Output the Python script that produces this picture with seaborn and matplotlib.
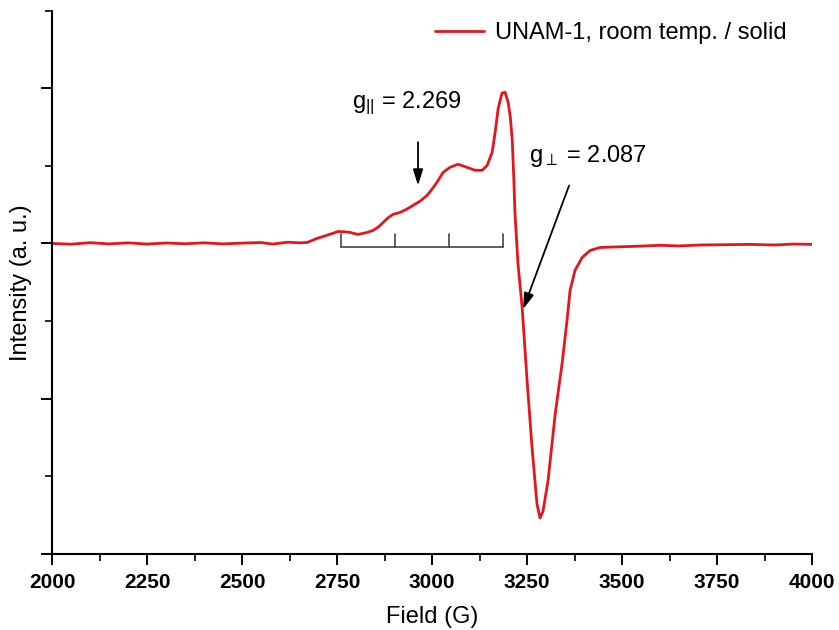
import matplotlib
matplotlib.use("Agg")
import matplotlib.pyplot as plt
from matplotlib.ticker import MultipleLocator
import seaborn as sns
import pandas as pd

# ---- data ----
field = [2000, 2050, 2100, 2150, 2200, 2250, 2300, 2350, 2400, 2450, 2500, 2550, 2580,
         2620, 2650, 2671, 2697, 2720, 2753, 2770, 2784, 2805, 2818, 2829, 2845, 2858,
         2871, 2884, 2897, 2916, 2933, 2950, 2970, 2987, 3000, 3013, 3029, 3047, 3068,
         3092, 3113, 3132, 3145, 3158, 3166, 3174, 3184, 3192, 3200, 3206, 3211, 3215,
         3218, 3226, 3237, 3250, 3263, 3276, 3284, 3292, 3305, 3324, 3342, 3355, 3363,
         3376, 3395, 3416, 3442, 3487, 3540, 3600, 3650, 3705, 3770, 3837, 3900, 3950, 4000]
intensity = [0.0, -0.005, 0.005, -0.003, 0.004, -0.004, 0.003, -0.002, 0.004, -0.003,
             0.002, 0.006, -0.004, 0.008, 0.004, 0.006, 0.032, 0.05, 0.077, 0.075, 0.071,
             0.058, 0.065, 0.071, 0.084, 0.105, 0.135, 0.165, 0.187, 0.2, 0.22, 0.245,
             0.275, 0.31, 0.35, 0.394, 0.458, 0.49, 0.51, 0.49, 0.471, 0.471, 0.503,
             0.587, 0.716, 0.871, 0.968, 0.974, 0.91, 0.81, 0.66, 0.42,
             0.2, -0.129, -0.413, -0.884, -1.316, -1.677, -1.768, -1.723, -1.529,
             -1.097, -0.774, -0.497, -0.303, -0.174, -0.09, -0.045, -0.026, -0.022,
             -0.018, -0.012, -0.016, -0.010, -0.008, -0.006, -0.010, -0.004, -0.006]
series_label = "UNAM-1, room temp. / solid"
hyperfine_fields = [2760, 2903, 3045, 3187]
x_ticks = [2000, 2250, 2500, 2750, 3000, 3250, 3500, 3750, 4000]

df = pd.DataFrame({"Field": field, "Intensity": intensity})

sns.set_theme(style="ticks")
plt.rcParams["font.family"] = ["Liberation Sans", "DejaVu Sans"]
plt.rcParams["text.color"] = "black"
plt.rcParams["axes.labelcolor"] = "black"
plt.rcParams["xtick.color"] = "black"
plt.rcParams["ytick.color"] = "black"
plt.rcParams["mathtext.fontset"] = "custom"
plt.rcParams["mathtext.rm"] = "Liberation Sans"
plt.rcParams["mathtext.it"] = "Liberation Sans"

fig = plt.figure(figsize=(8.39, 6.30), dpi=100)
ax = fig.add_axes([0.062, 0.1206, 0.906, 0.8627])

sns.lineplot(data=df, x="Field", y="Intensity", ax=ax, color="#e8141c", lw=2.0,
             label=series_label)

# hyperfine stick bracket
ax.plot([hyperfine_fields[0], hyperfine_fields[-1]], [-0.02, -0.02], color="#444444", lw=1.2)
for f in hyperfine_fields:
    ax.plot([f, f], [-0.02, 0.058], color="#444444", lw=1.2)

# annotations
ax.annotate("", xy=(2963, 0.355), xytext=(2963, 0.67),
            arrowprops=dict(arrowstyle="-|>,head_width=0.25,head_length=0.8", color="black", lw=1.3))
ax.text(2789, 0.905, r"g$_{\rm ||}$ = 2.269", fontsize=17, ha="left", va="center")
ax.annotate("", xy=(3237, -0.44), xytext=(3363, 0.39),
            arrowprops=dict(arrowstyle="-|>,head_width=0.25,head_length=0.8", color="black", lw=1.3))
ax.text(3255, 0.56, r"g$_{\perp}$ = 2.087", fontsize=17, ha="left", va="center")

ax.set_xlim(2000, 4000)
ax.set_ylim(-2, 1.5)
ax.set_xticks(x_ticks)
ax.xaxis.set_minor_locator(MultipleLocator(125))
ax.yaxis.set_major_locator(MultipleLocator(1))
ax.yaxis.set_minor_locator(MultipleLocator(0.5))
ax.set_yticklabels([])
ax.tick_params(axis="both", which="major", length=8, width=1.4, direction="out", color="black")
ax.tick_params(axis="both", which="minor", length=5, width=1.2, direction="out", color="black")
for lbl in ax.get_xticklabels():
    lbl.set_family(["Liberation Sans Narrow", "Liberation Sans", "DejaVu Sans"])
    lbl.set_fontweight("bold")
    lbl.set_fontsize(15)
    lbl.set_color("black")
ax.tick_params(axis="x", pad=6)

for s in ["top", "right"]:
    ax.spines[s].set_visible(False)
for s in ["left", "bottom"]:
    ax.spines[s].set_linewidth(1.5)
    ax.spines[s].set_color("black")

ax.set_xlabel("Field (G)", fontsize=17, labelpad=10)
ax.set_ylabel("Intensity (a. u.)", fontsize=17)
ax.yaxis.set_label_coords(-0.026, 0.5)

leg = ax.legend(loc="upper right", frameon=False, fontsize=17, handlelength=2.1,
                handletextpad=0.45, bbox_to_anchor=(0.985, 1.005), borderaxespad=0.2)
for t in leg.get_texts():
    t.set_color("black")

fig.savefig("out.png", dpi=100)
